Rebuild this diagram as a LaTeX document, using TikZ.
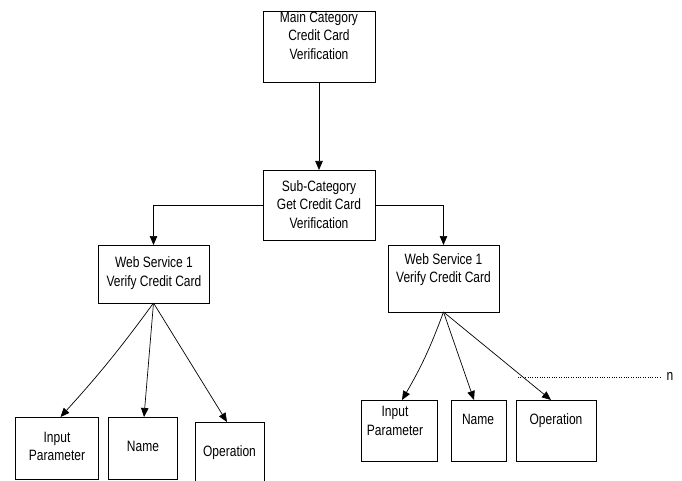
\documentclass[tikz,border=0pt]{standalone}
\usepackage{fontspec}
\setmainfont{Liberation Sans}
\usepackage{graphicx}
\usetikzlibrary{arrows.meta}
\newcommand\stxt[1]{\scalebox{1}[1.25]{\fontsize{12}{14.8}\selectfont\begin{tabular}{@{}c@{}}#1\end{tabular}}}
\tikzset{
  box/.style={draw, line width=0.8pt, inner sep=0pt, outer sep=0pt},
  openbox/.style={draw=none, inner sep=0pt, outer sep=0pt},
  txt/.style={inner sep=0pt, outer sep=0pt, align=center},
  conn/.style={line width=0.7pt, -{Triangle[length=9pt,width=7.5pt]}},
  dots/.style={line width=0.8pt, dash pattern=on 0.8pt off 1.6pt}
}
\begin{document}
\begin{tikzpicture}[x=1pt,y=-1pt]
\useasboundingbox (0,0) rectangle (682,481);
% boxes
\node[box, minimum width=112pt, minimum height=71pt] (main) at (319,46.5) {};
\node[box, minimum width=112pt, minimum height=70pt] (sub) at (319,205) {};
\node[box, minimum width=111pt, minimum height=58pt] (ws1) at (153.5,274) {};
\node[box, minimum width=111pt, minimum height=67pt] (ws2) at (443.5,278.5) {};
\node[box, minimum width=83pt, minimum height=62pt] (in1) at (56.5,448) {};
\node[box, minimum width=69pt, minimum height=62pt] (nm1) at (142.5,448) {};
\node[openbox, minimum width=69pt, minimum height=60pt] (op1) at (229.5,452) {};
\draw[line width=0.8pt] (op1.south west) -- (op1.north west) -- (op1.north east) -- (op1.south east);
\node[box, minimum width=76pt, minimum height=61pt] (in2) at (399,430.5) {};
\node[box, minimum width=55pt, minimum height=61pt] (nm2) at (478.5,430.5) {};
\node[box, minimum width=80pt, minimum height=61pt] (op2) at (556,430.5) {};
% texts
\node[txt] (tmain) at (319,37) {\stxt{Main Category\\Credit Card\\Verification}};
\node[txt] (tsub) at (319,206) {\stxt{Sub-Category\\Get Credit Card\\Verification}};
\node[txt] (tws1) at (154,273.5) {\stxt{Web Service 1\\Verify Credit Card}};
\node[txt] (tws2) at (443.5,270) {\stxt{Web Service 1\\Verify Credit Card}};
\node[txt] (tin1) at (57,448) {\stxt{Input\\Parameter}};
\node[txt] (tnm1) at (143,448) {\stxt{Name}};
\node[txt] (top1) at (229.5,453) {\stxt{Operation}};
\node[txt] (tin2) at (395,422.5) {\stxt{Input\\Parameter}};
\node[txt] (tnm2) at (478,421) {\stxt{Name}};
\node[txt] (top2) at (556,421) {\stxt{Operation}};
% connectors
\draw[conn] (main.south) -- (sub.north);
\draw[conn] (sub.west) -| (ws1.north);
\draw[conn] (sub.east) -| (ws2.north);
\draw[conn] (ws1.south) to[bend left=3] ([xshift=4pt]in1.north);
\draw[conn] (ws1.south) -- ([xshift=1.5pt]nm1.north);
\draw[conn] (ws1.south) -- ([xshift=-2.5pt]op1.north);
\draw[conn] (ws2.south) to[bend left=5] ([xshift=3pt]in2.north);
\draw[conn] (ws2.south) -- ([xshift=-4.5pt]nm2.north);
\draw[conn] (ws2.south) -- ([xshift=-5pt]op2.north);
% dotted
\node[txt, font=\fontsize{12}{14}\selectfont] (n) at (670,376) {\scalebox{1}[1.25]{n}};
\coordinate (dstart) at (518,377);
\draw[dots] (dstart) -- ([xshift=-6pt]n.west |- dstart);
\end{tikzpicture}
\end{document}
